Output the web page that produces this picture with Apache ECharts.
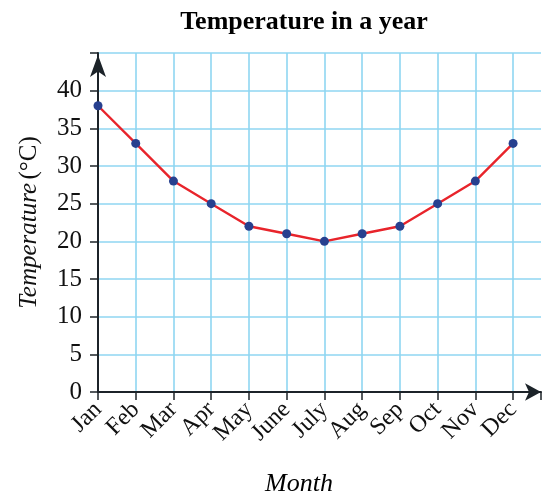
<!DOCTYPE html>
<html>
<head>
<meta charset="utf-8">
<script src="https://cdn.jsdelivr.net/npm/echarts@6/dist/echarts.min.js"></script>
<style>
  html, body { margin: 0; padding: 0; background: #fff; }
  #chart { width: 542px; height: 495px; }
</style>
</head>
<body>
<div id="chart"></div>
<script>
// Monthly temperatures over a year
const months = ['Jan', 'Feb', 'Mar', 'Apr', 'May', 'June', 'July', 'Aug', 'Sep', 'Oct', 'Nov', 'Dec'];
const temperatures = [38, 33, 28, 25, 22, 21, 20, 21, 22, 25, 28, 33];
const yTicks = [0, 5, 10, 15, 20, 25, 30, 35, 40];

const serif = '"Liberation Serif", "DejaVu Serif", serif';
const gridBlue = '#8fd6f2';
const axisInk = '#1c2329';

const monthIdx = months.map((_, i) => i);
const points = temperatures.map((t, i) => [i, t]);

const chart = echarts.init(document.getElementById('chart'), null, { renderer: 'canvas' });
chart.setOption({
  animation: false,
  title: [
    {
      text: 'Temperature in a year',
      left: 299, top: 4, textAlign: 'center',
      textStyle: { fontFamily: serif, fontWeight: 'bold', fontSize: 26, color: '#000' }
    },
    {
      text: 'Month',
      left: 294, top: 466, textAlign: 'center',
      textStyle: { fontFamily: serif, fontStyle: 'italic', fontWeight: 'normal', fontSize: 26, color: '#000' }
    }
  ],
  grid: { left: 98, right: 1, top: 53, bottom: 103, containLabel: false },
  xAxis: {
    type: 'value',
    min: 0,
    max: 11.74,
    interval: 1,
    axisLine: {
      show: true, onZero: false,
      lineStyle: { color: axisInk, width: 2 },
      symbol: ['none', 'arrow'], symbolSize: [13, 16], symbolOffset: [0, 0]
    },
    axisTick: { show: true, length: 8, lineStyle: { color: axisInk, width: 1.5 } },
    axisLabel: {
      customValues: monthIdx,
      formatter: v => months[Math.round(v)] || '',
      rotate: 45, margin: 14,
      fontFamily: serif, fontSize: 24, color: '#111'
    },
    splitLine: { show: true, showMinLine: false, showMaxLine: false, lineStyle: { color: gridBlue, width: 1.6 } }
  },
  yAxis: {
    type: 'value',
    min: 0,
    max: 45,
    interval: 5,
    name: '{it|Temperature} {up|(°C)}',
    nameLocation: 'middle',
    nameGap: 56,
    nameRotate: 90,
    nameTextStyle: {
      rich: {
        it: { fontFamily: serif, fontStyle: 'italic', fontSize: 25, color: '#111' },
        up: { fontFamily: serif, fontSize: 25, color: '#111' }
      }
    },
    axisLine: {
      show: true, onZero: false,
      lineStyle: { color: axisInk, width: 2 },
      symbol: ['none', 'arrow'], symbolSize: [12, 22], symbolOffset: [0, -2]
    },
    axisTick: { show: true, length: 8, lineStyle: { color: axisInk, width: 1.5 } },
    axisLabel: {
      customValues: yTicks,
      margin: 16,
      fontFamily: serif, fontSize: 25, color: '#111'
    },
    splitLine: { show: true, showMinLine: false, lineStyle: { color: gridBlue, width: 1.6 } }
  },
  series: [{
    type: 'line',
    data: points,
    lineStyle: { color: '#e8242b', width: 2.4 },
    symbol: 'circle',
    symbolSize: 9,
    itemStyle: { color: '#27408f' },
    z: 5
  }]
});
</script>
</body>
</html>
